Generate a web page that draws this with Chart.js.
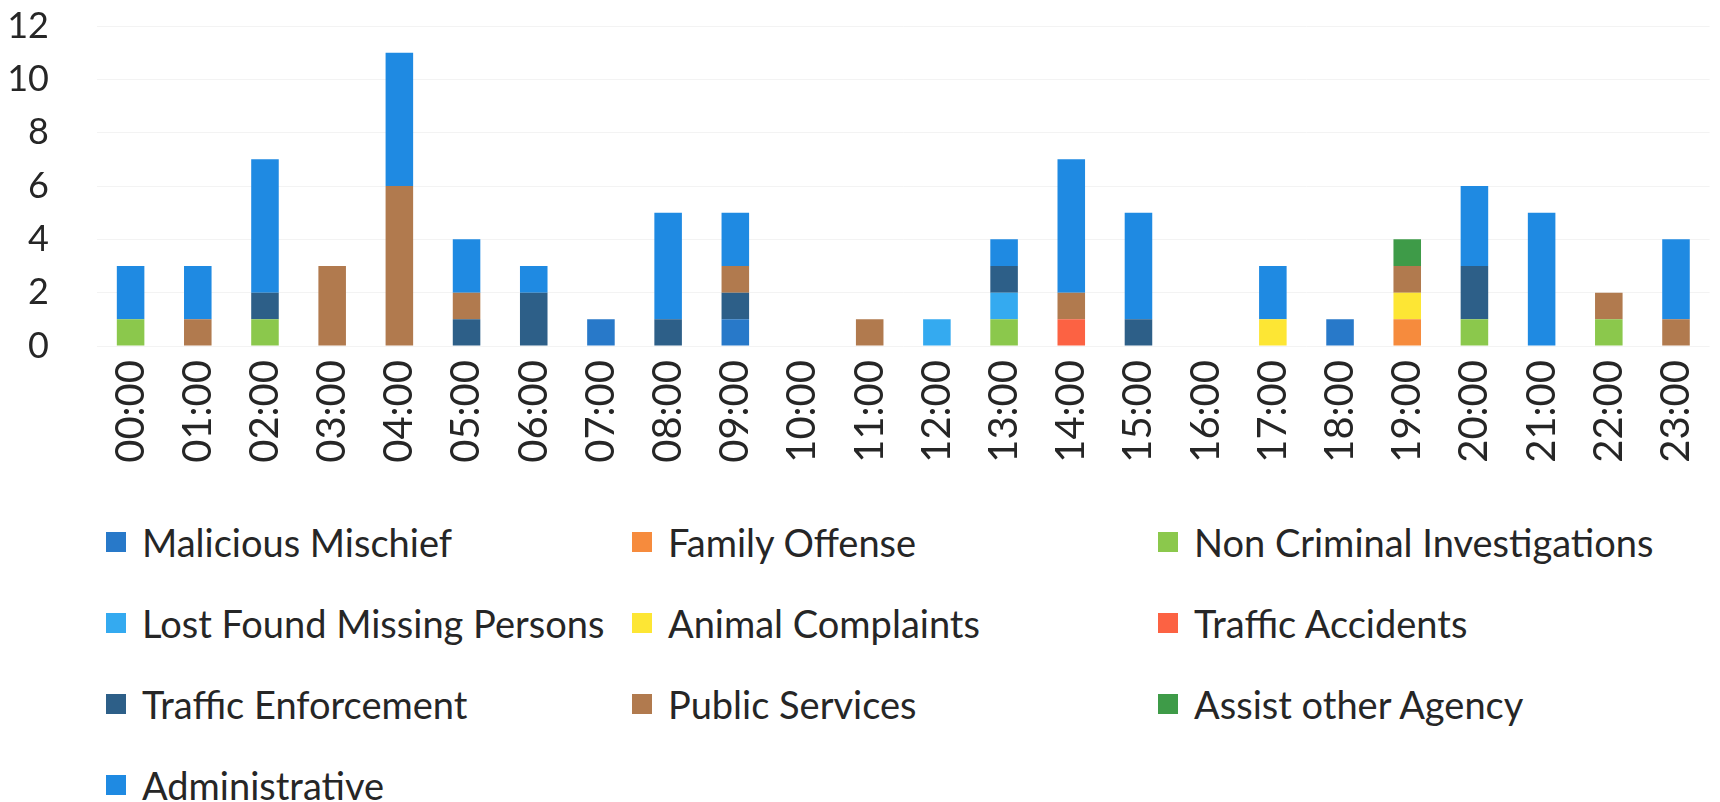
<!DOCTYPE html>
<html>
<head>
<meta charset="utf-8">
<script src="https://cdn.jsdelivr.net/npm/chart.js@4/dist/chart.umd.min.js"></script>
<style>
  html, body { margin: 0; padding: 0; background: #fff; overflow: hidden; }
  #wrap { position: absolute; left: 0; top: 0; width: 1730px; height: 482px; }
  #legend {
    position: absolute; left: 106px; top: 501px;
    display: grid; grid-template-columns: 526px 526px 526px; grid-auto-rows: 81px;
    font-family: Lato, "Noto Sans", sans-serif; font-size: 38px; color: #262626;
  }
  #legend .item { display: flex; align-items: center; white-space: nowrap; }
  #legend .box { width: 20px; height: 20px; margin-right: 16px; flex: none; }
</style>
</head>
<body>
<div id="wrap"><canvas id="calls"></canvas></div>
<div id="legend"></div>
<script>
const hours = ['00:00','01:00','02:00','03:00','04:00','05:00','06:00','07:00','08:00','09:00','10:00','11:00',
               '12:00','13:00','14:00','15:00','16:00','17:00','18:00','19:00','20:00','21:00','22:00','23:00'];

// calls per hour, one array per call type (stacking order bottom -> top)
const maliciousMischief   = [0,0,0,0,0,0,0,1,0,1,0,0,0,0,0,0,0,0,1,0,0,0,0,0];
const familyOffense       = [0,0,0,0,0,0,0,0,0,0,0,0,0,0,0,0,0,0,0,1,0,0,0,0];
const nonCriminal         = [1,0,1,0,0,0,0,0,0,0,0,0,0,1,0,0,0,0,0,0,1,0,1,0];
const lostFound           = [0,0,0,0,0,0,0,0,0,0,0,0,1,1,0,0,0,0,0,0,0,0,0,0];
const animalComplaints    = [0,0,0,0,0,0,0,0,0,0,0,0,0,0,0,0,0,1,0,1,0,0,0,0];
const trafficAccidents    = [0,0,0,0,0,0,0,0,0,0,0,0,0,0,1,0,0,0,0,0,0,0,0,0];
const trafficEnforcement  = [0,0,1,0,0,1,2,0,1,1,0,0,0,1,0,1,0,0,0,0,2,0,0,0];
const publicServices      = [0,1,0,3,6,1,0,0,0,1,0,1,0,0,1,0,0,0,0,1,0,0,1,1];
const assistOtherAgency   = [0,0,0,0,0,0,0,0,0,0,0,0,0,0,0,0,0,0,0,1,0,0,0,0];
const administrative      = [2,2,5,0,5,2,1,0,4,2,0,0,0,1,5,4,0,2,0,0,3,5,0,3];

const yTicks = [0, 2, 4, 6, 8, 10, 12];

const series = [
  ['Malicious Mischief', maliciousMischief, '#2879c9'],
  ['Family Offense', familyOffense, '#f68b3d'],
  ['Non Criminal Investigations', nonCriminal, '#8bc84c'],
  ['Lost Found Missing Persons', lostFound, '#34aaf0'],
  ['Animal Complaints', animalComplaints, '#fde634'],
  ['Traffic Accidents', trafficAccidents, '#fc6243'],
  ['Traffic Enforcement', trafficEnforcement, '#2d5f88'],
  ['Public Services', publicServices, '#b17a4e'],
  ['Assist other Agency', assistOtherAgency, '#3e9b48'],
  ['Administrative', administrative, '#1f8ae2'],
];

const family = 'Lato, "Noto Sans", sans-serif';

// legend drawn as an html grid of three columns
const htmlLegend = {
  id: 'htmlLegend',
  afterUpdate(chart) {
    const box = document.getElementById('legend');
    box.innerHTML = '';
    chart.options.plugins.legend.labels.generateLabels(chart).forEach(item => {
      const row = document.createElement('div');
      row.className = 'item';
      const sw = document.createElement('span');
      sw.className = 'box';
      sw.style.background = item.fillStyle;
      const txt = document.createElement('span');
      txt.textContent = item.text;
      row.appendChild(sw);
      row.appendChild(txt);
      box.appendChild(row);
    });
  }
};

new Chart(document.getElementById('calls'), {
  type: 'bar',
  data: {
    labels: hours,
    datasets: series.map(([label, data, color]) => ({
      label: label,
      data: data,
      backgroundColor: color,
      borderWidth: 0,
      categoryPercentage: 0.41,
      barPercentage: 1
    }))
  },
  options: {
    responsive: true,
    maintainAspectRatio: false,
    animation: false,
    layout: { padding: { top: 0 } },
    plugins: {
      legend: { display: false },
      tooltip: { enabled: false }
    },
    scales: {
      x: {
        stacked: true,
        grid: { display: false },
        border: { display: false },
        ticks: { color: '#262626', font: { family: family, size: 40 }, minRotation: 90, maxRotation: 90, padding: 6 },
        afterFit(scale) { scale.height = 136; }
      },
      y: {
        stacked: true,
        min: 0,
        max: 12,
        afterBuildTicks(scale) { scale.ticks = yTicks.map(v => ({ value: v })); },
        grid: { color: '#f3f3f3', drawTicks: false },
        border: { display: false },
        ticks: { color: '#262626', font: { family: family, size: 36 }, padding: 48 },
        afterFit(scale) {
          scale.width = 97;
          // the wide label gap should not push the plot down
          scale.paddingTop = 26;
        }
      }
    }
  },
  plugins: [htmlLegend]
});
</script>
</body>
</html>
